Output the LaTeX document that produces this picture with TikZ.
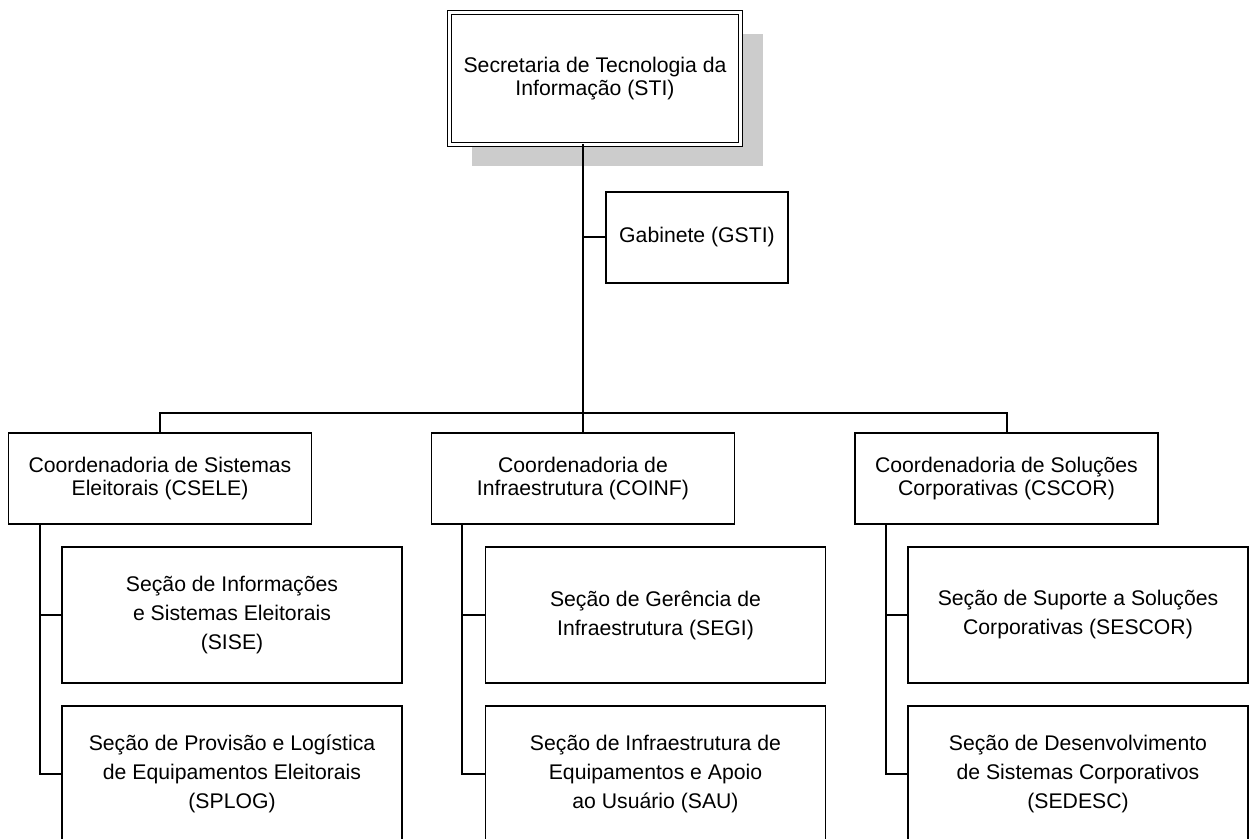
\documentclass[tikz,border=0pt]{standalone}
\usepackage{fontspec}
\setmainfont{Liberation Sans}
\usepackage{tikz}
\usetikzlibrary{positioning,calc,shadows}
\tikzset{
  unitbox/.style = {draw, line width=0.9pt, inner sep=0pt, outer sep=0pt, align=center,
                    font=\fontsize{10.6}{11.5}\selectfont},
  coordbox/.style = {unitbox, minimum width=151.5pt, minimum height=45.5pt},
  secbox/.style = {unitbox, minimum width=170pt, minimum height=68pt,
                   font=\fontsize{10.6}{14.5}\selectfont},
  topbox/.style = {unitbox, double, double distance=1.2pt, line width=0.8pt,
                   minimum width=145.5pt, minimum height=66pt, fill=white,
                   drop shadow={shadow xshift=11pt, shadow yshift=-11pt, fill=black!20, opacity=1}},
  link/.style = {line width=1pt}
}

\begin{document}
\begin{tikzpicture}[x=0.5pt,y=-0.5pt]
    \useasboundingbox (0,0) rectangle (1249,839);

    \node[topbox] (sti) at (595,78.5) {Secretaria de Tecnologia da\\Informação (STI)};
    \node[unitbox, minimum width=91pt, minimum height=45.5pt] (gsti) at (697,237.5) {Gabinete (GSTI)};

    \node[coordbox] (csele) at (160,478.5) {Coordenadoria de Sistemas\\Eleitorais (CSELE)};
    \node[coordbox] (coinf) at (583,478.5) {Coordenadoria de\\Infraestrutura (COINF)};
    \node[coordbox] (cscor) at (1006.5,478.5) {Coordenadoria de Soluções\\Corporativas (CSCOR)};

    \node[secbox] (sise) at (232,615) {Seção de Informações\\e Sistemas Eleitorais\\(SISE)};
    \node[secbox] (splog) at (232,774) {Seção de Provisão e Logística\\de Equipamentos Eleitorais\\(SPLOG)};
    \node[secbox] (segi) at (655.5,615) {Seção de Gerência de\\Infraestrutura (SEGI)};
    \node[secbox] (sau) at (655.5,774) {Seção de Infraestrutura de\\Equipamentos e Apoio\\ao Usuário (SAU)};
    \node[secbox] (sescor) at (1078,615) {Seção de Suporte a Soluções\\Corporativas (SESCOR)};
    \node[secbox] (sedesc) at (1078,774) {Seção de Desenvolvimento\\de Sistemas Corporativos\\(SEDESC)};

    \coordinate (hub) at (583,413);
    \draw[link] (coinf.north |- sti.south) -- (coinf.north);
    \draw[link] (gsti.west) -- (gsti.west -| coinf.north);
    \draw[link] (csele.north) |- (hub) -| (cscor.north);

    \draw[link] ([xshift=15.5pt]csele.south west) |- (sise.west);
    \draw[link] ([xshift=15.5pt]csele.south west) |- (splog.west);
    \draw[link] ([xshift=15pt]coinf.south west) |- (segi.west);
    \draw[link] ([xshift=15pt]coinf.south west) |- (sau.west);
    \draw[link] ([xshift=15.5pt]cscor.south west) |- (sescor.west);
    \draw[link] ([xshift=15.5pt]cscor.south west) |- (sedesc.west);
\end{tikzpicture}
\end{document}
